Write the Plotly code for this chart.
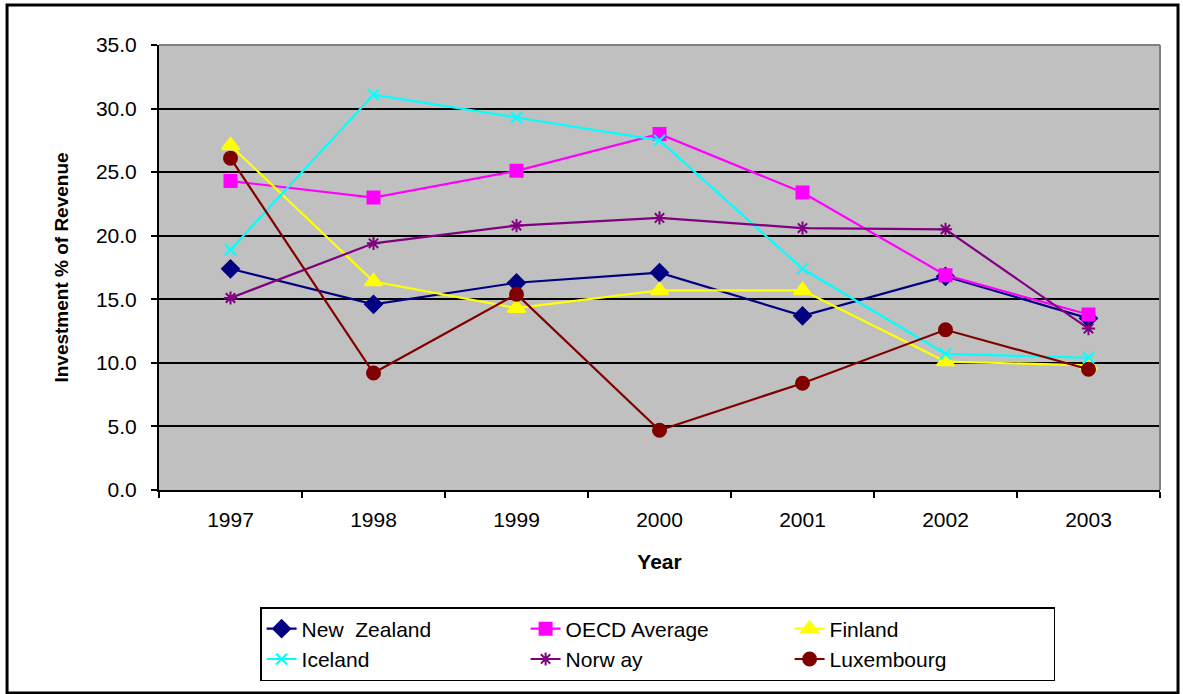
import plotly.graph_objects as go

years = ["1997", "1998", "1999", "2000", "2001", "2002", "2003"]

new_zealand = [17.4, 14.6, 16.3, 17.1, 13.7, 16.8, 13.5]
oecd_average = [24.3, 23.0, 25.1, 28.0, 23.4, 16.9, 13.8]
finland = [27.1, 16.4, 14.3, 15.7, 15.7, 10.1, 9.8]
iceland = [18.9, 31.1, 29.3, 27.5, 17.4, 10.7, 10.4]
norway = [15.1, 19.4, 20.8, 21.4, 20.6, 20.5, 12.7]
luxembourg = [26.1, 9.2, 15.4, 4.7, 8.4, 12.6, 9.5]

y_ticks = [0, 5, 10, 15, 20, 25, 30, 35]

series = [
    ("New  Zealand", new_zealand, "#000080", "diamond", 13),
    ("OECD Average", oecd_average, "#FF00FF", "square", 12),
    ("Finland", finland, "#FFFF00", "triangle-up", 15),
    ("Iceland", iceland, "#00FFFF", "x-thin-open", 11),
    ("Norw ay", norway, "#800080", "asterisk-open", 11),
    ("Luxembourg", luxembourg, "#800000", "circle", 13),
]

font_family = "Liberation Sans, Arial, sans-serif"

fig = go.Figure()
for name, values, color, symbol, size in series:
    fig.add_trace(go.Scatter(
        x=years, y=values, name=name, mode="lines+markers",
        line=dict(color=color, width=2.2),
        marker=dict(symbol=symbol, size=size, color=color,
                    line=dict(color=color, width=2)),
    ))

fig.update_layout(
    width=1183, height=694,
    margin=dict(l=159, r=23, t=45, b=204, autoexpand=False),
    paper_bgcolor="white",
    plot_bgcolor="#C0C0C0",
    font=dict(family=font_family, size=20, color="black"),
    showlegend=True,
    legend=dict(
        orientation="h",
        x=0.101, xanchor="left",
        y=-0.263, yanchor="top",
        entrywidth=219, entrywidthmode="pixels",
        bgcolor="white", bordercolor="black", borderwidth=1.5,
        font=dict(family=font_family, size=21),
        tracegroupgap=0,
    ),
    xaxis=dict(
        type="category",
        tickson="boundaries",
        ticks="outside", ticklen=6, tickwidth=2, tickcolor="black",
        showline=True, linecolor="black", linewidth=2,
        showgrid=False,
        tickfont=dict(size=21),
        ticklabelstandoff=10,
        title=dict(text="<b>Year</b>", font=dict(size=21), standoff=24),
        range=[-0.5, 6.5],
    ),
    yaxis=dict(
        range=[0, 35],
        tickvals=y_ticks,
        tickformat=".1f",
        ticks="outside", ticklen=6, tickwidth=2, tickcolor="black",
        showline=True, linecolor="black", linewidth=2,
        showgrid=True, gridcolor="black", gridwidth=2,
        zeroline=False,
        tickfont=dict(size=21),
        ticklabelstandoff=10,
        title=dict(text="<b>Investment % of Revenue</b>", font=dict(size=19),
                   standoff=22),
    ),
)

# grey frame along the top and right edges of the plotting area
fig.add_shape(type="line", xref="paper", yref="paper", x0=0, x1=1, y0=1, y1=1,
              line=dict(color="#808080", width=2))
fig.add_shape(type="line", xref="paper", yref="paper", x0=1, x1=1, y0=0, y1=1,
              line=dict(color="#808080", width=2))

# outer border around the whole chart
fig.add_shape(type="rect", xref="paper", yref="paper",
              x0=-0.1518, x1=1.018, y0=-0.456, y1=1.0899,
              line=dict(color="black", width=3), layer="above")

fig.write_html("out.html")
